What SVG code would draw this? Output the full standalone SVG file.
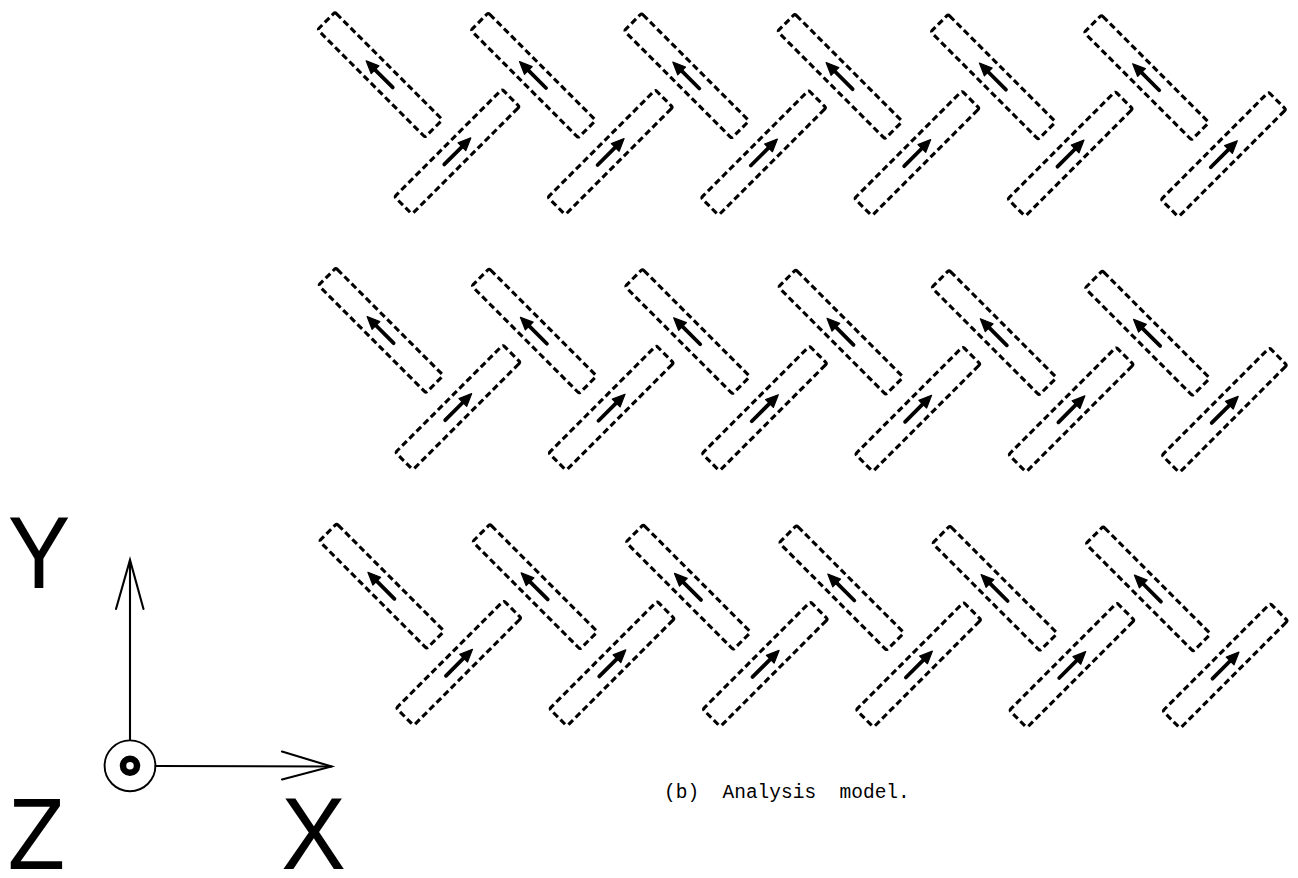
<svg xmlns="http://www.w3.org/2000/svg" xmlns:xlink="http://www.w3.org/1999/xlink" width="1298" height="878" viewBox="0 0 1298 878">
  <style>
    .outline { fill: none; stroke: #000; stroke-width: 3.1; stroke-dasharray: 6.5 3.6; }
    .shaft { stroke: #000; stroke-width: 3.8; stroke-linecap: round; }
    .head { fill: #000; stroke: #000; stroke-width: 1.2; stroke-linejoin: round; }
    .axis { stroke: #000; stroke-width: 2.1; fill: none; stroke-linecap: round; }
    .axlabel { font-family: "Liberation Sans", Arial, sans-serif; font-size: 102px; fill: #000; text-anchor: middle; }
    .caption { font-family: "Liberation Mono", "Courier New", monospace; font-size: 19.5px; fill: #000; white-space: pre; }
  </style>
  <defs>
    <!-- one magnet bar: dashed outline with its magnetisation arrow (points to local -x) -->
    <g id="bar">
      <rect class="outline" x="-76" y="-12.3" width="152" height="24.6" rx="2"/>
      <line class="shaft" x1="18" y1="0" x2="-8" y2="0"/>
      <polygon class="head" points="-19.5,0 -7,-5.5 -7,5.5"/>
    </g>
  </defs>
  <rect width="1298" height="878" fill="#fff"/>

  <!-- row 1 -->
  <g id="r1c1a" transform="translate(380,74.7) rotate(45)"><use xlink:href="#bar"/></g>
  <g id="r1c1b" transform="translate(457,151.7) rotate(135)"><use xlink:href="#bar"/></g>
  <g id="r1c2a" transform="translate(533.3,75.3) rotate(45)"><use xlink:href="#bar"/></g>
  <g id="r1c2b" transform="translate(610.3,152.3) rotate(135)"><use xlink:href="#bar"/></g>
  <g id="r1c3a" transform="translate(686.6,75.8) rotate(45)"><use xlink:href="#bar"/></g>
  <g id="r1c3b" transform="translate(763.6,152.8) rotate(135)"><use xlink:href="#bar"/></g>
  <g id="r1c4a" transform="translate(839.9,76.4) rotate(45)"><use xlink:href="#bar"/></g>
  <g id="r1c4b" transform="translate(916.9,153.4) rotate(135)"><use xlink:href="#bar"/></g>
  <g id="r1c5a" transform="translate(993.2,76.9) rotate(45)"><use xlink:href="#bar"/></g>
  <g id="r1c5b" transform="translate(1070.2,153.9) rotate(135)"><use xlink:href="#bar"/></g>
  <g id="r1c6a" transform="translate(1146.5,77.5) rotate(45)"><use xlink:href="#bar"/></g>
  <g id="r1c6b" transform="translate(1223.5,154.5) rotate(135)"><use xlink:href="#bar"/></g>

  <!-- row 2 -->
  <g id="r2c1a" transform="translate(380.9,330.4) rotate(45)"><use xlink:href="#bar"/></g>
  <g id="r2c1b" transform="translate(457.9,407.4) rotate(135)"><use xlink:href="#bar"/></g>
  <g id="r2c2a" transform="translate(534.2,331) rotate(45)"><use xlink:href="#bar"/></g>
  <g id="r2c2b" transform="translate(611.2,408) rotate(135)"><use xlink:href="#bar"/></g>
  <g id="r2c3a" transform="translate(687.5,331.5) rotate(45)"><use xlink:href="#bar"/></g>
  <g id="r2c3b" transform="translate(764.5,408.5) rotate(135)"><use xlink:href="#bar"/></g>
  <g id="r2c4a" transform="translate(840.8,332.1) rotate(45)"><use xlink:href="#bar"/></g>
  <g id="r2c4b" transform="translate(917.8,409.1) rotate(135)"><use xlink:href="#bar"/></g>
  <g id="r2c5a" transform="translate(994.1,332.6) rotate(45)"><use xlink:href="#bar"/></g>
  <g id="r2c5b" transform="translate(1071.1,409.6) rotate(135)"><use xlink:href="#bar"/></g>
  <g id="r2c6a" transform="translate(1147.4,333.2) rotate(45)"><use xlink:href="#bar"/></g>
  <g id="r2c6b" transform="translate(1224.4,410.2) rotate(135)"><use xlink:href="#bar"/></g>

  <!-- row 3 -->
  <g id="r3c1a" transform="translate(381.7,586.1) rotate(45)"><use xlink:href="#bar"/></g>
  <g id="r3c1b" transform="translate(458.7,663.1) rotate(135)"><use xlink:href="#bar"/></g>
  <g id="r3c2a" transform="translate(535,586.7) rotate(45)"><use xlink:href="#bar"/></g>
  <g id="r3c2b" transform="translate(612,663.7) rotate(135)"><use xlink:href="#bar"/></g>
  <g id="r3c3a" transform="translate(688.3,587.2) rotate(45)"><use xlink:href="#bar"/></g>
  <g id="r3c3b" transform="translate(765.3,664.2) rotate(135)"><use xlink:href="#bar"/></g>
  <g id="r3c4a" transform="translate(841.6,587.8) rotate(45)"><use xlink:href="#bar"/></g>
  <g id="r3c4b" transform="translate(918.6,664.8) rotate(135)"><use xlink:href="#bar"/></g>
  <g id="r3c5a" transform="translate(994.9,588.3) rotate(45)"><use xlink:href="#bar"/></g>
  <g id="r3c5b" transform="translate(1071.9,665.3) rotate(135)"><use xlink:href="#bar"/></g>
  <g id="r3c6a" transform="translate(1148.2,588.9) rotate(45)"><use xlink:href="#bar"/></g>
  <g id="r3c6b" transform="translate(1225.2,665.9) rotate(135)"><use xlink:href="#bar"/></g>

  <!-- coordinate axes -->
  <g id="axes">
    <line class="axis" x1="130" y1="740" x2="130" y2="560"/>
    <polyline class="axis" points="116,609 130,560 143.5,609"/>
    <line class="axis" x1="155.5" y1="766" x2="331.5" y2="766.5"/>
    <polyline class="axis" points="282,751.5 331.5,766.5 282,779.5"/>
    <circle cx="130" cy="765.8" r="25.4" fill="none" stroke="#000" stroke-width="1.9"/>
    <circle cx="130" cy="765.8" r="7" fill="none" stroke="#000" stroke-width="6.5"/>
  </g>
  <text class="axlabel" transform="translate(39,588) scale(0.92,1)">Y</text>
  <text class="axlabel" transform="translate(36.5,869) scale(0.92,1)">Z</text>
  <text class="axlabel" transform="translate(313.5,869) scale(0.95,1)">X</text>

  <text class="caption" x="664" y="798">(b)  Analysis  model.</text>
</svg>
